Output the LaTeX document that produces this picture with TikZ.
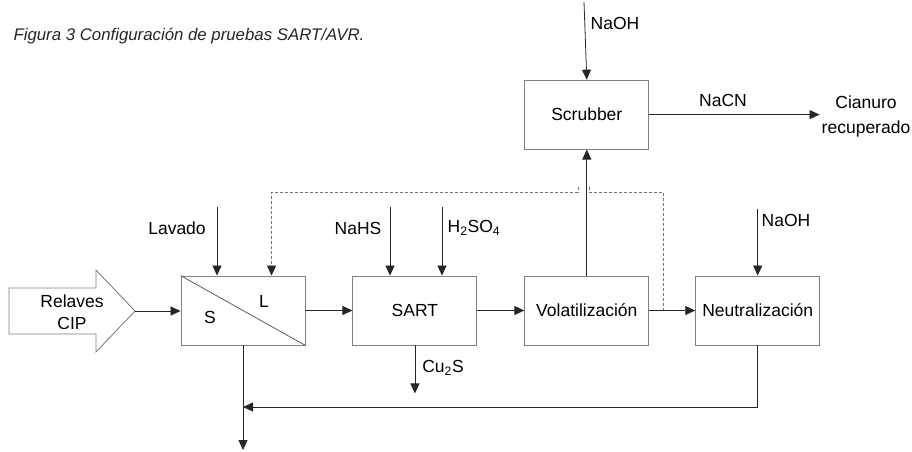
\documentclass[tikz,border=0pt]{standalone}
\usepackage{fontspec}
\setmainfont{Liberation Sans}
\usetikzlibrary{arrows.meta, positioning}

\begin{document}
\begin{tikzpicture}[
    x=1pt, y=-1pt,
    font=\fontsize{17.5}{21}\selectfont,
    unit/.style={rectangle, draw=black!50, line width=0.9pt, minimum width=124pt,
                minimum height=69pt, align=center, inner sep=0pt},
    flow/.style={-{Triangle[length=10pt, width=9pt]}, line width=0.8pt, draw=black!85},
    dashline/.style={line width=0.7pt, draw=black!55, dash pattern=on 3pt off 2pt},
    recycle/.style={dashline, -{Triangle[length=10pt, width=9pt, color=black!85, fill=black!85]}},
    label/.style={inner sep=1pt}
]
\useasboundingbox (0,0) rectangle (912,451);

\node[anchor=west, font=\fontsize{16.8}{19}\selectfont\itshape, text=black!85] (caption)
    at (10,36) {Figura 3 Configuración de pruebas SART/AVR.};

% process units
\node[unit] (sep) at (243,310.5) {};
\node[unit, right=47pt of sep] (sart) {SART};
\node[unit, right=47pt of sart] (vol) {Volatilización};
\node[unit, right=46pt of vol] (neu) {Neutralización};
\node[unit, above=126pt of vol] (scr) {Scrubber};
\draw[draw=black!70, line width=0.7pt] (sep.north west) -- (sep.south east);
\node (sside) at (210,317) {S};
\node (lside) at (264,301) {L};

% feed arrow
\draw[draw=black!50, line width=0.9pt] (9,288) -- (96,288) -- (96,270) -- (135,311)
    -- (96,352) -- (96,334) -- (9,334) -- cycle;
\node[align=center, font=\fontsize{17.5}{22}\selectfont] (cip) at (72,312) {Relaves\\CIP};
\coordinate (ciptip) at (135,311);

% recycle of liquid (dashed)
\coordinate (split) at (663,310.5);
\coordinate (lin) at ([xshift=91pt]sep.north west);
\draw[dashline] (split) -- (663,192) -- (589,192) -- (589,187);
\draw[recycle] (578,187) -- (578,192) -- (lin |- 0,192) -- (lin);

% reagents and products
\coordinate (lavtop) at (217,207);
\node[label] (lav) at (177,228) {Lavado};
\coordinate (nahstop) at (390,207);
\node[label] (nahs) at (358,228) {NaHS};
\coordinate (acidtop) at (442,207);
\node[label] (acid) at (474,228) {H\textsubscript{2}SO\textsubscript{4}};
\coordinate (cuout) at ([yshift=-48pt]sart.south);
\node[label] (cus) at (443,368) {Cu\textsubscript{2}S};
\coordinate (naohtop) at (584,2);
\node[label] (naoh1) at (615,23) {NaOH};
\coordinate (naohneu) at ([yshift=67pt]neu.north);
\node[label] (naoh2) at (786,220) {NaOH};
\node[label] (nacn) at (723,100) {NaCN};
\node[align=center, font=\fontsize{17.5}{25}\selectfont, inner sep=2pt] (cian) at (866,116)
    {Cianuro\\recuperado};
\coordinate (merge) at (243,407);
\coordinate (tails) at (243,450);

\draw[flow] (ciptip) -- (sep.west |- ciptip);
\draw[flow] (lavtop) -- (lavtop |- sep.north);
\draw[flow] (sep) -- (sart);
\draw[flow] (nahstop) -- (nahstop |- sart.north);
\draw[flow] (acidtop) -- (acidtop |- sart.north);
\draw[flow] (sart.south) -- (cuout);
\draw[flow] (sart) -- (vol);
\draw[flow] (vol) -- (scr);
\draw[flow] (naohtop) -- (scr.north);
\draw[flow] (scr.east) -- (scr.east -| cian.west);
\draw[flow] (vol) -- (neu);
\draw[flow] (naohneu) -- (neu.north);
\draw[flow] (neu.south) |- (merge);
\draw[flow] (sep.south) -- (tails);
\end{tikzpicture}
\end{document}
